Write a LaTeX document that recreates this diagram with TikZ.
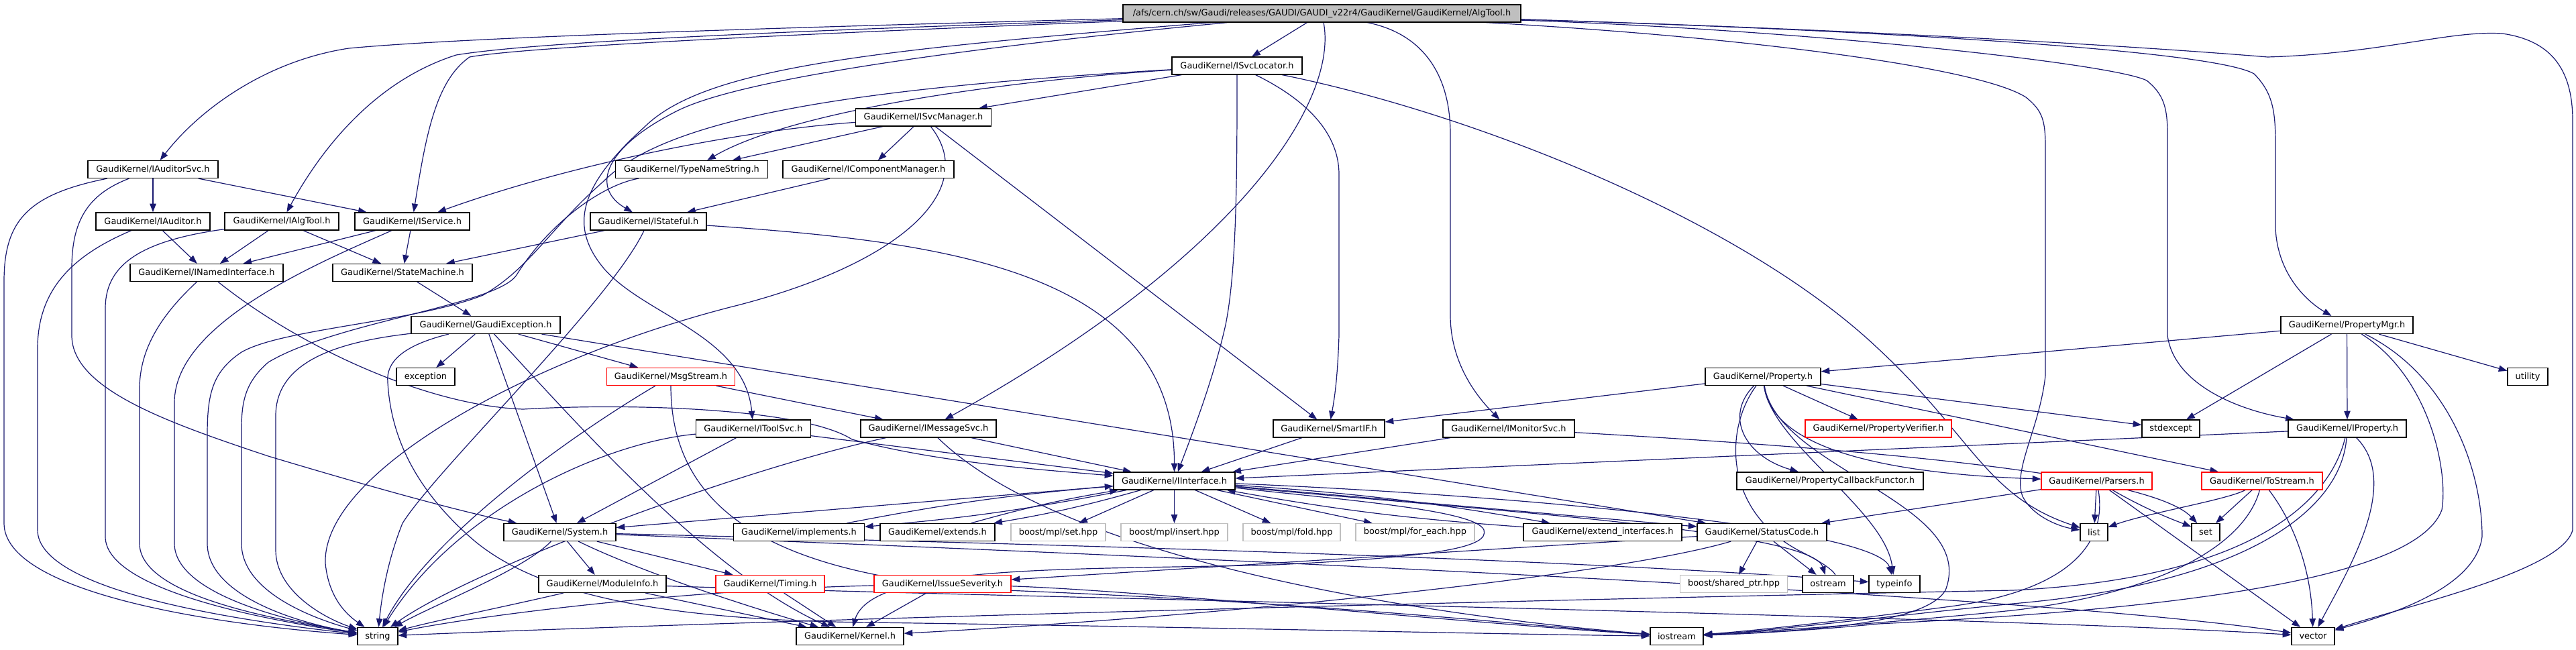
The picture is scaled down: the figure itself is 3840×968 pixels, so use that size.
\documentclass[tikz,border=0pt]{standalone}
\usepackage{fontspec}
\setmainfont{DejaVu Sans}
\usetikzlibrary{arrows.meta}
\pgfdeclarelayer{background}
\pgfsetlayers{background,main}
\definecolor{edgeblue}{HTML}{191970}
\definecolor{incred}{HTML}{FF0000}
\definecolor{extgray}{HTML}{BFBFBF}
\definecolor{rootgray}{HTML}{BFBFBF}
\tikzset{every picture/.style={line width=0.75pt}}
\tikzset{
  hdr/.style={draw=black, fill=white, line width=0.9pt, minimum width=#1*0.75pt, minimum height=19.5pt, inner sep=0pt, font=\fontsize{9.7}{11}\selectfont},
  hdrred/.style={hdr=#1, draw=incred},
  hdrgray/.style={hdr=#1, draw=extgray},
  dep/.style={draw=edgeblue, line width=0.9pt, -{Triangle[length=9.5pt,width=7pt]}}
}
\begin{document}
\begin{tikzpicture}[x=0.75pt,y=0.75pt,yscale=-1,xscale=1]
\useasboundingbox (0,0) rectangle (3840,968);

% Text Node
\node[hdr=593, fill=rootgray] (root) at (1970.5,20) {/afs/cern.ch/sw/Gaudi/releases/GAUDI/GAUDI\_v22r4/GaudiKernel/GaudiKernel/AlgTool.h};
% Text Node
\node[hdr=194] (isvclocator) at (1844,98) {GaudiKernel/ISvcLocator.h};
% Text Node
\node[hdr=202] (isvcmanager) at (1376.5,175) {GaudiKernel/ISvcManager.h};
% Text Node
\node[hdr=194] (iauditorsvc) at (228,252.5) {GaudiKernel/IAuditorSvc.h};
% Text Node
\node[hdr=227] (typenamestring) at (1031,252.5) {GaudiKernel/TypeNameString.h};
% Text Node
\node[hdr=255] (icomponentmanager) at (1294.5,252.5) {GaudiKernel/IComponentManager.h};
% Text Node
\node[hdr=170] (iauditor) at (228,330) {GaudiKernel/IAuditor.h};
% Text Node
\node[hdr=170] (ialgtool) at (420,330) {GaudiKernel/IAlgTool.h};
% Text Node
\node[hdr=171] (iservice) at (614.5,330) {GaudiKernel/IService.h};
% Text Node
\node[hdr=173] (istateful) at (966.5,330) {GaudiKernel/IStateful.h};
% Text Node
\node[hdr=228] (inamedinterface) at (308,406.5) {GaudiKernel/INamedInterface.h};
% Text Node
\node[hdr=208] (statemachine) at (600,406.5) {GaudiKernel/StateMachine.h};
% Text Node
\node[hdr=222] (gaudiexception) at (724,484.5) {GaudiKernel/GaudiException.h};
% Text Node
\node[hdr=197] (propertymgr) at (3498.5,484.5) {GaudiKernel/PropertyMgr.h};
% Text Node
\node[hdr=87] (exception) at (634.5,561.5) {exception};
% Text Node
\node[hdrred=191] (msgstream) at (1000,561.5) {GaudiKernel/MsgStream.h};
% Text Node
\node[hdr=172] (property) at (2628,561.5) {GaudiKernel/Property.h};
% Text Node
\node[hdr=60] (utility) at (3768,561.5) {utility};
% Text Node
\node[hdr=171] (itoolsvc) at (1123,639) {GaudiKernel/IToolSvc.h};
% Text Node
\node[hdr=202] (imessagesvc) at (1384,639) {GaudiKernel/IMessageSvc.h};
% Text Node
\node[hdr=166] (smartif) at (1981,639) {GaudiKernel/SmartIF.h};
% Text Node
\node[hdr=196] (imonitorsvc) at (2249,639) {GaudiKernel/IMonitorSvc.h};
% Text Node
\node[hdrred=218] (propertyverifier) at (2800,639) {GaudiKernel/PropertyVerifier.h};
% Text Node
\node[hdr=86] (stdexcept) at (3236,639) {stdexcept};
% Text Node
\node[hdr=176] (iproperty) at (3499,639) {GaudiKernel/IProperty.h};
% Text Node
\node[hdr=181] (iinterface) at (1750.5,717) {GaudiKernel/IInterface.h};
% Text Node
\node[hdr=278] (propertycallbackfunctor) at (2728,717) {GaudiKernel/PropertyCallbackFunctor.h};
% Text Node
\node[hdrred=165] (parsers) at (3125.5,717) {GaudiKernel/Parsers.h};
% Text Node
\node[hdrred=180] (tostream) at (3372,717) {GaudiKernel/ToStream.h};
% Text Node
\node[hdr=167] (system) at (834.5,793.5) {GaudiKernel/System.h};
% Text Node
\node[hdr=195] (implements) at (1191,793.5) {GaudiKernel/implements.h};
% Text Node
\node[hdr=171] (extends) at (1397.5,793.5) {GaudiKernel/extends.h};
% Text Node
\node[hdrgray=141] (mplset) at (1577.5,793.5) {boost/mpl/set.hpp};
% Text Node
\node[hdrgray=159] (mplinsert) at (1750.5,793.5) {boost/mpl/insert.hpp};
% Text Node
\node[hdrgray=145] (mplfold) at (1925.5,793.5) {boost/mpl/fold.hpp};
% Text Node
\node[hdrgray=177] (mplforeach) at (2109.5,793.5) {boost/mpl/for\_each.hpp};
% Text Node
\node[hdr=236] (extendinterfaces) at (2389,793.5) {GaudiKernel/extend\_interfaces.h};
% Text Node
\node[hdr=193] (statuscode) at (2626.5,793.5) {GaudiKernel/StatusCode.h};
% Text Node
\node[hdr=41] (list) at (3121.5,793.5) {list};
% Text Node
\node[hdr=42] (set) at (3288,793.5) {set};
% Text Node
\node[hdr=190] (moduleinfo) at (898,870.5) {GaudiKernel/ModuleInfo.h};
% Text Node
\node[hdrred=162] (timing) at (1148,870.5) {GaudiKernel/Timing.h};
% Text Node
\node[hdrred=204] (issueseverity) at (1405,870.5) {GaudiKernel/IssueSeverity.h};
% Text Node
\node[hdrgray=160] (sharedptr) at (2584.5,870.5) {boost/shared\_ptr.hpp};
% Text Node
\node[hdr=76] (ostream) at (2725,870.5) {ostream};
% Text Node
\node[hdr=76] (typeinfo) at (2824,870.5) {typeinfo};
% Text Node
\node[hdr=60] (string) at (563,948.5) {string};
% Text Node
\node[hdr=160] (kernel) at (1267,948.5) {GaudiKernel/Kernel.h};
% Text Node
\node[hdr=79] (iostream) at (2499.5,948.5) {iostream};
% Text Node
\node[hdr=64] (vector) at (3448,948.5) {vector};

\begin{pgfonlayer}{background}
%Shape: Rectangle
\path[fill=white] (0,0) rectangle (3840,968);
%Straight Lines
\draw[dep] (root) -- (isvclocator);
%Curve Lines
\draw[dep] (root) .. controls (1200,40) and (700,55) .. (520,72) .. controls (400,90) and (300,160) .. (iauditorsvc);
%Curve Lines
\draw[dep] (root) .. controls (1200,45) and (800,62) .. (680,82) .. controls (560,120) and (480,220) .. (ialgtool);
%Curve Lines
\draw[dep] (root) .. controls (1200,50) and (780,70) .. (700,85) .. controls (650,120) and (635,200) .. (iservice);
%Curve Lines
\draw[dep] (root) .. controls (1400,75) and (1100,120) .. (1010,165) .. controls (900,220) and (880,280) .. (istateful);
%Curve Lines
\draw[dep] (root) .. controls (1300,75) and (1050,100) .. (960,190) .. controls (860,280) and (850,340) .. (900,400) .. controls (960,470) and (1110,500) .. (itoolsvc);
%Curve Lines
\draw[dep] (root) .. controls (1995,150) and (1850,380) .. (imessagesvc);
%Curve Lines
\draw[dep] (root) .. controls (2120,50) and (2162,110) .. (2162,200) -- (2162,470) .. controls (2162,540) and (2200,590) .. (imonitorsvc);
%Curve Lines
\draw[dep] (root) .. controls (2800,45) and (3300,75) .. (3360,110) .. controls (3390,140) and (3392,170) .. (3392,220) -- (3392,340) .. controls (3395,410) and (3440,450) .. (propertymgr);
%Curve Lines
\draw[dep] (root) .. controls (2700,45) and (3150,95) .. (3200,120) .. controls (3225,140) and (3231,160) .. (3231,200) -- (3231,500) .. controls (3240,570) and (3330,610) .. (iproperty);
%Curve Lines
\draw[dep] (root) .. controls (2600,55) and (2950,100) .. (3020,145) .. controls (3045,165) and (3049,180) .. (3049,220) -- (3049,560) .. controls (3040,640) and (3000,700) .. (3015,740) .. controls (3030,770) and (3070,785) .. (list);
%Curve Lines
\draw[dep] (root) .. controls (2800,45) and (3200,70) .. (3380,85) .. controls (3550,80) and (3650,45) .. (3730,50) .. controls (3800,60) and (3835,100) .. (3835,180) -- (3835,790) .. controls (3820,850) and (3600,900) .. (vector);

%Straight Lines
\draw[dep] (isvclocator) -- (isvcmanager);
%Curve Lines
\draw[dep] (isvclocator) .. controls (1500,120) and (1180,165) .. (typenamestring);
%Curve Lines
\draw[dep] (isvclocator) .. controls (1300,130) and (1000,170) .. (900,270) .. controls (820,340) and (790,400) .. (720,440) .. controls (620,480) and (420,490) .. (360,525) .. controls (315,555) and (309,590) .. (309,650) -- (309,810) .. controls (309,890) and (450,930) .. (string);
%Curve Lines
\draw[dep] (isvclocator) .. controls (1844,250) and (1844,400) .. (1827,484) .. controls (1810,560) and (1780,640) .. (iinterface);
%Curve Lines
\draw[dep] (isvclocator) .. controls (1950,150) and (1996,200) .. (1996,260) -- (1996,500) .. controls (1994,560) and (1990,590) .. (smartif);
%Curve Lines
\draw[dep] (isvclocator) .. controls (2200,170) and (2600,330) .. (2800,520) .. controls (2940,650) and (2960,740) .. (list);

%Straight Lines
\draw[dep] (isvcmanager) -- (icomponentmanager);
%Straight Lines
\draw[dep] (isvcmanager) -- (typenamestring);
%Curve Lines
\draw[dep] (isvcmanager) .. controls (1100,195) and (850,245) .. (iservice);
%Curve Lines
\draw[dep] (isvcmanager) .. controls (1460,280) and (1350,390) .. (1100,455) .. controls (800,530) and (480,700) .. (485,840) .. controls (490,890) and (515,915) .. (string);
%Straight Lines
\draw[dep] (isvcmanager) -- (smartif);
%Straight Lines
\draw[dep] (icomponentmanager) -- (istateful);
%Curve Lines
\draw[dep] (typenamestring) .. controls (900,275) and (820,330) .. (770,410) .. controls (740,455) and (500,480) .. (400,540) .. controls (365,570) and (360,600) .. (360,640) -- (360,810) .. controls (360,880) and (460,920) .. (string);

%Straight Lines
\draw[dep] (iauditorsvc) -- (iauditor);
%Straight Lines
\draw[dep] (iauditorsvc) -- (iservice);
%Curve Lines
\draw[dep] (iauditorsvc) .. controls (40,290) and (6,330) .. (6,420) -- (6,780) .. controls (6,880) and (300,930) .. (string);
%Curve Lines
\draw[dep] (iauditorsvc) .. controls (130,290) and (107,330) .. (107,400) -- (107,500) .. controls (107,580) and (250,630) .. (400,680) .. controls (600,740) and (700,765) .. (system);
%Straight Lines
\draw[dep] (iauditor) -- (inamedinterface);
%Curve Lines
\draw[dep] (iauditor) .. controls (110,380) and (56,430) .. (56,520) -- (56,790) .. controls (56,880) and (350,925) .. (string);
%Straight Lines
\draw[dep] (ialgtool) -- (inamedinterface);
%Straight Lines
\draw[dep] (ialgtool) -- (statemachine);
%Curve Lines
\draw[dep] (ialgtool) .. controls (200,360) and (157,400) .. (157,460) -- (157,800) .. controls (157,880) and (400,925) .. (string);
%Straight Lines
\draw[dep] (iservice) -- (inamedinterface);
%Straight Lines
\draw[dep] (iservice) -- (statemachine);
%Curve Lines
\draw[dep] (iservice) .. controls (480,390) and (260,480) .. (260,600) -- (260,810) .. controls (260,890) and (450,930) .. (string);
%Curve Lines
\draw[dep] (inamedinterface) .. controls (240,470) and (208,520) .. (208,580) -- (208,810) .. controls (208,890) and (420,925) .. (string);
%Curve Lines
\draw[dep] (inamedinterface) .. controls (450,520) and (640,605) .. (780,610) .. controls (950,600) and (1200,610) .. (1270,655) .. controls (1400,690) and (1550,700) .. (iinterface);
%Straight Lines
\draw[dep] (statemachine) -- (gaudiexception);
%Straight Lines
\draw[dep] (istateful) -- (statemachine);
%Curve Lines
\draw[dep] (istateful) .. controls (1400,360) and (1751,400) .. (iinterface);
%Curve Lines
\draw[dep] (istateful) .. controls (910,450) and (650,700) .. (600,780) .. controls (580,830) and (570,880) .. (string);

%Straight Lines
\draw[dep] (gaudiexception) -- (exception);
%Straight Lines
\draw[dep] (gaudiexception) -- (msgstream);
%Straight Lines
\draw[dep] (gaudiexception) -- (system);
%Curve Lines
\draw[dep] (gaudiexception) .. controls (850,620) and (1050,850) .. (kernel);
%Straight Lines
\draw[dep] (gaudiexception) -- (statuscode);
%Curve Lines
\draw[dep] (gaudiexception) .. controls (500,510) and (411,540) .. (411,620) -- (411,820) .. controls (411,880) and (480,920) .. (string);
%Curve Lines
\draw[dep] (gaudiexception) .. controls (600,515) and (575,540) .. (578,570) .. controls (582,640) and (610,720) .. (700,800) .. controls (800,890) and (1000,925) .. (1300,928) .. controls (1800,935) and (2200,945) .. (iostream);
%Straight Lines
\draw[dep] (msgstream) -- (imessagesvc);
%Curve Lines
\draw[dep] (msgstream) .. controls (850,650) and (640,800) .. (string);
%Curve Lines
\draw[dep] (msgstream) .. controls (1000,760) and (1150,860) .. (1500,880) .. controls (2000,900) and (2300,935) .. (iostream);
%Straight Lines
\draw[dep] (itoolsvc) -- (system);
%Straight Lines
\draw[dep] (itoolsvc) -- (iinterface);
%Curve Lines
\draw[dep] (itoolsvc) .. controls (900,660) and (680,760) .. (string);
%Straight Lines
\draw[dep] (imessagesvc) -- (iinterface);
%Curve Lines
\draw[dep] (imessagesvc) .. controls (1100,700) and (700,850) .. (string);
%Curve Lines
\draw[dep] (imessagesvc) .. controls (1600,850) and (2200,925) .. (iostream);
%Straight Lines
\draw[dep] (smartif) -- (iinterface);
%Straight Lines
\draw[dep] (imonitorsvc) -- (iinterface);
%Curve Lines
\draw[dep] (imonitorsvc) .. controls (2700,665) and (3200,700) .. (set);

%Straight Lines
\draw[dep] (iinterface) -- (system);
%Curve Lines
\draw[dep] (iinterface) to[bend right=3] (implements);
%Curve Lines
\draw[dep] (implements) to[bend right=3] (iinterface);
%Curve Lines
\draw[dep] (iinterface) to[bend right=3] (extends);
%Curve Lines
\draw[dep] (extends) to[bend right=3] (iinterface);
%Straight Lines
\draw[dep] (iinterface) -- (mplset);
%Straight Lines
\draw[dep] (iinterface) -- (mplinsert);
%Straight Lines
\draw[dep] (iinterface) -- (mplfold);
%Straight Lines
\draw[dep] (iinterface) -- (mplforeach);
%Curve Lines
\draw[dep] (iinterface) to[bend right=3] (extendinterfaces);
%Curve Lines
\draw[dep] (extendinterfaces) to[bend right=3] (iinterface);
%Straight Lines
\draw[dep] (iinterface) -- (statuscode);
%Curve Lines
\draw[dep] (iinterface) .. controls (2000,745) and (2200,760) .. (2212,790) .. controls (2220,815) and (2150,830) .. (1900,842) .. controls (1600,850) and (1300,840) .. (kernel);
%Curve Lines
\draw[dep] (iinterface) .. controls (2200,760) and (2700,790) .. (ostream);
%Curve Lines
\draw[dep] (iinterface) .. controls (2300,740) and (2800,790) .. (typeinfo);

%Straight Lines
\draw[dep] (property) -- (propertyverifier);
%Curve Lines
\draw[dep] (property) .. controls (2640,660) and (2780,705) .. (parsers);
%Straight Lines
\draw[dep] (property) -- (tostream);
%Straight Lines
\draw[dep] (property) -- (stdexcept);
%Straight Lines
\draw[dep] (property) -- (smartif);
%Curve Lines
\draw[dep] (property) .. controls (2570,620) and (2600,680) .. (propertycallbackfunctor);
%Curve Lines
\draw[dep] (property) .. controls (2640,660) and (2810,760) .. (typeinfo);
%Curve Lines
\draw[dep] (property) .. controls (2570,640) and (2570,760) .. (2680,820) .. controls (2740,850) and (2740,860) .. (ostream);
%Curve Lines
\draw[dep] (property) .. controls (2650,700) and (2950,750) .. (2900,880) .. controls (2870,930) and (2700,940) .. (iostream);
%Straight Lines
\draw[dep] (propertymgr) -- (property);
%Straight Lines
\draw[dep] (propertymgr) -- (stdexcept);
%Straight Lines
\draw[dep] (propertymgr) -- (iproperty);
%Straight Lines
\draw[dep] (propertymgr) -- (utility);
%Curve Lines
\draw[dep] (propertymgr) .. controls (3650,560) and (3700,700) .. (3700,800) .. controls (3690,880) and (3550,920) .. (vector);
%Curve Lines
\draw[dep] (propertymgr) .. controls (3620,560) and (3650,700) .. (3640,760) .. controls (3600,870) and (3200,910) .. (2800,930) .. controls (2700,940) and (2600,945) .. (iostream);
%Straight Lines
\draw[dep] (iproperty) -- (iinterface);
%Curve Lines
\draw[dep] (iproperty) .. controls (3580,720) and (3500,850) .. (vector);
%Curve Lines
\draw[dep] (iproperty) .. controls (3490,760) and (3350,870) .. (3000,900) .. controls (2800,920) and (2650,940) .. (iostream);
%Curve Lines
\draw[dep] (iproperty) .. controls (3480,720) and (3400,860) .. (3000,880) .. controls (2000,900) and (1000,930) .. (string);
%Straight Lines
\draw[dep] (parsers) -- (list);
%Curve Lines
\draw[dep] (parsers) .. controls (3200,760) and (3240,775) .. (set);
%Straight Lines
\draw[dep] (parsers) -- (vector);
%Straight Lines
\draw[dep] (parsers) -- (statuscode);
%Curve Lines
\draw[dep] (parsers) .. controls (3140,800) and (3100,880) .. (2900,905) .. controls (2750,925) and (2620,940) .. (iostream);
%Straight Lines
\draw[dep] (tostream) -- (set);
%Curve Lines
\draw[dep] (tostream) .. controls (3320,745) and (3200,765) .. (list);
%Curve Lines
\draw[dep] (tostream) .. controls (3420,780) and (3445,850) .. (vector);
%Curve Lines
\draw[dep] (tostream) .. controls (3350,800) and (3250,880) .. (3000,910) .. controls (2800,930) and (2650,940) .. (iostream);

%Straight Lines
\draw[dep] (statuscode) -- (sharedptr);
%Straight Lines
\draw[dep] (statuscode) -- (ostream);
%Straight Lines
\draw[dep] (statuscode) -- (issueseverity);
%Curve Lines
\draw[dep] (statuscode) .. controls (2400,860) and (1800,920) .. (kernel);
%Straight Lines
\draw[dep] (system) -- (moduleinfo);
%Straight Lines
\draw[dep] (system) -- (timing);
%Curve Lines
\draw[dep] (system) .. controls (950,850) and (1100,900) .. (kernel);
%Curve Lines
\draw[dep] (system) .. controls (780,850) and (650,900) .. (string);
%Curve Lines
\draw[dep] (system) .. controls (1500,810) and (2300,830) .. (typeinfo);
%Curve Lines
\draw[dep] (system) .. controls (1500,820) and (3000,880) .. (vector);
%Straight Lines
\draw[dep] (moduleinfo) -- (kernel);
%Curve Lines
\draw[dep] (moduleinfo) .. controls (750,905) and (650,925) .. (string);
%Curve Lines
\draw[dep] (moduleinfo) .. controls (1500,890) and (3000,920) .. (vector);
%Straight Lines
\draw[dep] (timing) -- (kernel);
%Straight Lines
\draw[dep] (issueseverity) -- (kernel);
%Curve Lines
\draw[dep] (issueseverity) .. controls (1000,880) and (700,920) .. (string);
%Curve Lines
\draw[dep] (issueseverity) .. controls (1700,880) and (2200,930) .. (iostream);
\end{pgfonlayer}
\end{tikzpicture}
\end{document}
